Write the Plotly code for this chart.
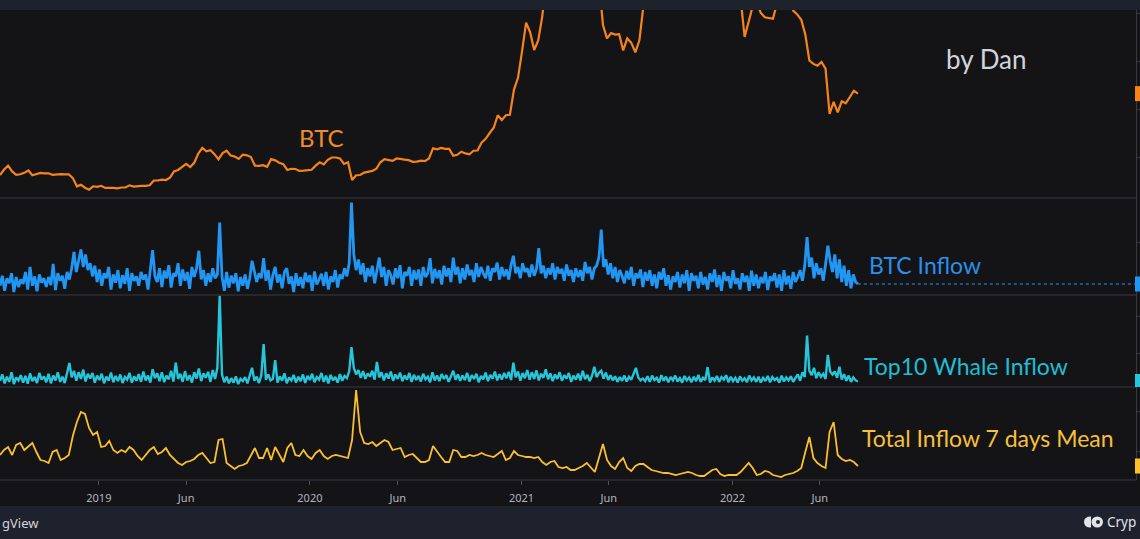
import pandas as pd
import plotly.graph_objects as go

# ---------------- data ----------------
# BTC price, weekly (Saturdays) from 2018-07-14
btc_price = [
    6250, 7400, 8200, 7000, 6300, 6400, 6700, 7200, 6200, 6500, 6700, 6600, 6600,
    6300, 6450, 6450, 6400, 6400, 5600, 3900, 4200, 3600, 3200, 3900, 3800,
    4000, 3550, 3600, 3580, 3480, 3650, 3650, 4100, 3830, 3950, 4000, 4000, 4100,
    5100, 5100, 5300, 5200, 5700, 7000, 7300, 8000, 8550, 7900, 8800, 10700, 11900,
    11200, 11400, 10600, 9500, 10800, 11300, 10300, 10100, 9600, 10500, 10350, 10000,
    8200, 8150, 8300, 7950, 9550, 9300, 8800, 8500, 7300, 7550, 7500, 7100, 7150, 7300,
    7350, 8200, 8900, 8450, 9400, 9900, 9900, 9700, 8550, 8900, 5200, 6200, 6250,
    6750, 6900, 7100, 7550, 8900, 9550, 9350, 9200, 9700, 9650, 9450, 9350, 9000,
    9050, 9250, 9150, 9700, 11800, 11600, 11900, 11700, 11700, 10250, 10450, 11100,
    10750, 10550, 11300, 11350, 13000, 13800, 15000, 16100, 18700, 17700, 18700,
    18800, 24000, 26500,
    32000, 38000, 36000, 32300, 34300, 39300, 47200, 57500, 46200, 48900, 61200,
    58100, 55800, 57100, 59900, 60000, 50100, 57800, 58800, 46700, 37500, 34700,
    35800, 35500, 35600, 32200, 34700, 33800, 31800, 34300, 41500, 44600, 47100,
    48900, 48900, 49900, 45200, 48300, 42700, 47700, 54900, 60900, 61300, 61900,
    61500, 64200, 59700, 54800, 49400, 49300, 46700, 50800,
    47700, 41800, 43100, 35000, 37900, 41400, 42200, 40000, 39100, 39000, 38800,
    42000, 44500, 46400, 42700, 40500, 39700, 38600, 35500, 30100, 29400, 29000,
    29800, 28400, 19000, 21500, 19300, 21600, 21200, 22500, 23800, 23200,
]

# BTC exchange inflow (k BTC), every 4 days from 2018-07-14
btc_inflow = [
    30, 46, 22, 42, 34, 50, 20, 44, 28, 40,
    33, 52, 24, 60, 30, 45, 21, 48, 35, 42,
    28, 44, 31, 65, 23, 50, 38, 46, 25, 52,
    40, 58, 84, 52, 70, 88, 60, 80, 55, 66,
    45, 62, 36, 56, 30, 50, 42, 60, 24, 48,
    35, 55, 26, 47, 33, 58, 22, 50, 38, 45,
    30, 52, 40, 48, 24, 60, 87, 45, 36, 58,
    28, 54, 42, 63, 27, 50, 45, 66, 30, 56,
    38, 52, 25, 60, 44, 58, 86, 40, 55, 30,
    50, 36, 58, 42, 48, 131, 45, 22, 52, 27,
    46, 34, 50, 21, 44, 30, 48, 25, 42, 70,
    55, 36, 50, 42, 74, 38, 55, 24, 47, 60,
    35, 48, 26, 52, 58, 33, 45, 20, 50, 30,
    44, 26, 51, 36, 47, 22, 53, 32, 40, 49,
    30, 52, 24, 45, 36, 55, 27, 48, 41, 58,
    45, 66, 163, 80, 55, 72, 48, 66, 36, 58,
    45, 62, 34, 57, 75, 44, 60, 30, 55, 47,
    32, 58, 42, 63, 26, 52, 46, 60, 30, 55,
    40, 56, 30, 60, 44, 50, 74, 34, 57, 42,
    55, 32, 62, 45, 58, 36, 75, 48, 60, 34,
    58, 40, 64, 47, 55, 36, 66, 44, 60, 50,
    42, 62, 38, 58, 52, 67, 40, 60, 45, 56,
    40, 63, 78, 50, 60, 42, 66, 52, 58, 44,
    64, 46, 57, 90, 50, 62, 42, 58, 48, 66,
    40, 60, 50, 57, 38, 64, 46, 55, 36, 58,
    44, 55, 38, 68, 50, 60, 40, 58, 62, 75,
    120, 60, 72, 48, 66, 42, 60, 36, 55, 46,
    34, 54, 40, 60, 30, 50, 42, 56, 28, 52,
    38, 55, 30, 48, 26, 52, 40, 58, 30, 47,
    24, 45, 36, 52, 27, 48, 34, 55, 22, 50,
    38, 46, 26, 52, 32, 44, 24, 50, 36, 56,
    28, 47, 22, 52, 38, 45, 26, 55, 33, 42,
    24, 50, 36, 46, 22, 54, 30, 48, 26, 44,
    34, 52, 23, 45, 38, 50, 27, 48, 22, 55,
    32, 46, 25, 52, 36, 44, 55, 38, 62, 108,
    60, 75, 42, 66, 48, 58, 38, 64, 94, 70,
    52, 80, 42, 72, 36, 62, 30, 55, 26, 48,
    36, 32.8,
]

# Top10 whale inflow (10k BTC), every 4 days from 2018-07-14
whale_inflow = [
    2.5, 4.2, 1.8, 3.6, 2.2, 4.8, 1.6, 3.4, 2.6, 4.0,
    2.0, 3.8, 1.7, 4.5, 2.4, 3.5, 1.9, 4.6, 2.8, 3.7,
    2.1, 4.4, 1.8, 3.9, 2.6, 4.8, 2.2, 3.6, 1.9, 4.9,
    7.3, 3.4, 5.2, 2.5, 4.8, 3.0, 5.5, 2.3, 4.4, 3.1,
    4.6, 2.0, 3.9, 2.7, 4.4, 1.8, 3.6, 2.5, 4.7, 2.1,
    3.8, 2.4, 4.2, 1.9, 3.5, 2.8, 4.6, 2.0, 3.7, 2.5,
    4.3, 2.2, 5.0, 2.6, 3.9, 2.0, 5.6, 3.2, 4.5, 2.4,
    4.8, 2.1, 3.9, 2.9, 5.2, 2.3, 7.4, 3.0, 4.4, 2.2,
    5.1, 2.6, 4.0, 2.0, 4.8, 3.1, 5.8, 2.4, 4.5, 3.3,
    4.9, 2.2, 5.4, 3.0, 6.0, 25.5, 4.2, 2.1, 3.6, 1.8,
    3.2, 2.0, 3.7, 1.6, 3.0, 2.4, 3.5, 1.8, 3.9, 6.0,
    2.5, 3.6, 1.9, 4.0, 12.4, 2.8, 4.2, 2.6, 3.0, 8.1,
    2.0, 3.7, 2.5, 4.5, 1.8, 3.4, 2.6, 4.1, 2.0, 3.6,
    2.4, 4.2, 1.9, 3.8, 2.7, 4.4, 2.1, 3.5, 2.8, 4.6,
    2.2, 3.9, 1.8, 4.1, 2.6, 3.5, 2.0, 4.3, 2.5, 3.8,
    3.2, 5.0, 11.6, 6.0, 4.2, 5.4, 3.3, 5.1, 3.0, 4.5,
    3.6, 5.2, 2.8, 7.6, 3.4, 4.8, 2.6, 4.5, 3.1, 5.0,
    2.5, 4.2, 3.0, 4.7, 2.4, 3.9, 2.8, 4.6, 2.2, 4.1,
    2.7, 3.8, 2.3, 4.4, 2.9, 3.6, 2.1, 4.8, 2.6, 3.9,
    2.4, 4.3, 3.0, 4.0, 2.2, 3.7, 5.2, 2.8, 4.2, 2.5,
    3.9, 2.7, 4.6, 2.3, 4.0, 3.0, 4.4, 2.1, 3.8, 2.9,
    4.7, 2.4, 4.1, 3.1, 5.0, 2.6, 4.3, 2.8, 4.6, 3.2,
    4.9, 2.7, 7.4, 3.4, 5.0, 2.5, 4.6, 3.2, 5.4, 2.8,
    4.8, 3.0, 5.3, 2.6, 4.4, 3.3, 5.6, 2.9, 4.5, 2.4,
    4.2, 3.0, 4.8, 2.5, 4.0, 3.1, 4.6, 2.2, 3.9, 2.8,
    4.4, 2.6, 5.2, 2.9, 4.1, 2.4, 3.8, 6.3, 3.5, 4.6,
    5.2, 3.1, 4.7, 2.7, 4.0, 2.6, 3.7, 2.2, 3.5, 2.5,
    3.9, 2.3, 3.6, 2.8, 4.2, 6.0, 3.4, 2.6, 3.1, 2.4,
    3.7, 2.2, 3.9, 2.7, 3.3, 2.0, 4.0, 2.5, 3.6, 2.1,
    3.5, 2.6, 3.9, 2.3, 3.2, 2.0, 3.8, 2.6, 3.4, 2.1,
    3.6, 2.4, 4.1, 2.2, 3.3, 2.7, 6.2, 2.0, 3.4, 2.5,
    3.8, 2.2, 3.5, 2.8, 4.0, 2.1, 3.6, 2.4, 3.3, 2.0,
    3.7, 2.5, 3.2, 2.1, 3.9, 2.6, 3.4, 2.2, 3.6, 2.0,
    3.3, 2.4, 3.8, 2.1, 3.5, 2.7, 3.2, 2.0, 3.9, 2.3,
    3.4, 2.6, 3.7, 2.2, 3.3, 4.2, 2.5, 4.8, 3.5, 14.7,
    5.2, 4.0, 6.0, 3.2, 4.8, 3.6, 4.4, 3.0, 9.5, 5.0,
    4.2, 5.0, 3.3, 6.3, 2.8, 4.3, 2.5, 3.9, 2.2, 3.4,
    2.6, 2.3,
]

# Total inflow 7-day mean (10k BTC), weekly from 2018-07-14
inflow_mean7 = [
    18, 20.5, 22, 18, 23, 24, 20.5, 22.5, 24, 19.5,
    15.5, 15, 14, 19.5, 20.5, 15.5, 16.5, 18, 27.5, 34.5,
    39.5, 38.5, 31.5, 28, 29.5, 22, 22.5, 25, 20.5, 19,
    20.5, 19.5, 22, 20.5, 17.5, 15.5, 18, 20.5, 22, 18.5,
    19.5, 21.5, 18, 16, 14, 13, 14.5, 15, 16, 18,
    19, 16.5, 14, 14.5, 25.5, 26, 14, 12.5, 11, 12.5,
    13, 14, 18, 21.5, 16.5, 16.5, 21.5, 15.5, 22, 18,
    14.5, 21.5, 24, 18, 17.5, 20.5, 17.5, 16, 19, 20.5,
    17.5, 16, 17.5, 18, 17.5, 17, 16.5, 25.5, 50.5, 29.5,
    24, 23.5, 24.5, 22.5, 24, 25.5, 24.5, 20.5, 21, 21.5,
    17, 18, 18.5, 16.5, 14.5, 14.5, 15.5, 22.5, 19.5, 17,
    14.5, 14.5, 20.5, 20, 17, 17, 18, 17.5, 18, 19,
    18, 17.5, 17, 18.5, 20, 15.5, 16.5, 20, 18, 17.5,
    17, 17, 16.5, 17, 14.5, 13, 14.5, 15, 12, 11.5,
    12, 10.5, 10.5, 11.5, 12.5, 14, 12, 9.5, 16.5, 23.5,
    15.5, 12.5, 11, 14.5, 16.5, 11.5, 10, 12.5, 13.5, 13.5,
    12, 10.5, 10, 9.5, 9, 9, 8.5, 8, 8.5, 9,
    9.5, 9, 8, 7.5, 7.5, 9, 10.5, 11, 8.5, 7.5,
    8, 8, 8, 9.5, 12, 14, 11.5, 8, 8.5, 10,
    9.5, 8, 7.5, 7, 8, 8.5, 9, 10, 11.5, 19.5,
    27, 16.5, 14, 12.5, 11.5, 29.5, 34.5, 18, 16, 15,
    15.5, 14.5, 12.5,
]

tick_dates = ["2019-01-01", "2019-06-01", "2020-01-01", "2020-06-01",
              "2021-01-01", "2021-06-01", "2022-01-01", "2022-06-01"]
tick_labels = ["2019", "Jun", "2020", "Jun", "2021", "Jun", "2022", "Jun"]

price_dates = pd.date_range("2018-07-14", periods=len(btc_price), freq="7D")
inflow_dates = pd.date_range("2018-07-14", periods=len(btc_inflow), freq="4D")
whale_dates = pd.date_range("2018-07-14", periods=len(whale_inflow), freq="4D")
mean_dates = pd.date_range("2018-07-14", periods=len(inflow_mean7), freq="7D")

# ---------------- styling ----------------
W, H = 1140, 539
ML, MR, MT, MB = 0, 4, 10, 59
PW, PH = W - ML - MR, H - MT - MB
BG = "#141417"
BAR = "#1e222d"
SEP = "#363a45"
ORANGE = "#f7841a"
BLUE = "#2196f3"
CYAN = "#26c6da"
YELLOW = "#fbc02d"
FONT = "Lato"

def fx(px):
    return (px - ML) / PW

def fy(py):
    return (MT + PH - py) / PH

pane_px = [(10, 198), (198, 295), (295, 387), (387, 480)]
domains = [[fy(b), fy(t)] for t, b in pane_px]
ranges = [[1458, 40625], [15.2, 170.4], [0.81, 25.7], [5.5, 52]]
tickvals = [[10000, 20000, 30000, 40000], [100], [10, 20], [20, 40]]

fig = go.Figure()
series = [
    (price_dates, btc_price, ORANGE, 2.2, "BTC"),
    (inflow_dates, btc_inflow, BLUE, 2.8, "BTC Inflow"),
    (whale_dates, whale_inflow, CYAN, 2.4, "Top10 Whale Inflow"),
    (mean_dates, inflow_mean7, YELLOW, 1.8, "Total Inflow 7 days Mean"),
]
for k, (xd, yd, col, lw, name) in enumerate(series):
    fig.add_trace(go.Scatter(
        x=xd, y=yd, mode="lines", name=name,
        line=dict(color=col, width=lw),
        xaxis="x", yaxis="y" if k == 0 else f"y{k+1}",
        hoverinfo="skip",
    ))

x_range = ["2018-07-14", "2023-11-30"]
layout = dict(
    width=W, height=H,
    margin=dict(l=ML, r=MR, t=MT, b=MB, pad=0),
    paper_bgcolor=BG, plot_bgcolor=BG,
    showlegend=False, hovermode=False,
    font=dict(family=FONT, color="#b2b5be"),
    xaxis=dict(
        domain=[0, 1], anchor="y4", range=x_range, type="date",
        tickvals=tick_dates, ticktext=tick_labels,
        ticks="outside", ticklen=4, tickcolor="#50535e",
        tickfont=dict(family="Noto Sans", size=11, color="#b2b5be"),
        ticklabelstandoff=4,
        showgrid=False, zeroline=False, showline=False,
    ),
)
for k in range(4):
    key = "yaxis" if k == 0 else f"yaxis{k+1}"
    layout[key] = dict(
        domain=domains[k], anchor="x", side="right", range=ranges[k],
        tickvals=tickvals[k], ticks="outside", ticklen=5, tickcolor=SEP,
        showticklabels=False, showgrid=False, zeroline=False,
        showline=True, linecolor=SEP, linewidth=1,
    )
fig.update_layout(**layout)

shapes = []
# header and footer bars
shapes.append(dict(type="rect", xref="paper", yref="paper",
                   x0=fx(-5), x1=fx(W + 5), y0=fy(10), y1=fy(-5),
                   fillcolor=BAR, line_width=0, layer="below"))
shapes.append(dict(type="rect", xref="paper", yref="paper",
                   x0=fx(-5), x1=fx(W + 5), y0=fy(545), y1=fy(506),
                   fillcolor=BAR, line_width=0, layer="below"))
# pane separators
for py in [198, 295, 387, 480]:
    shapes.append(dict(type="line", xref="paper", yref="paper",
                       x0=0, x1=1, y0=fy(py), y1=fy(py),
                       line=dict(color=SEP, width=1)))

# last value labels on the price scale
for k, (xd, yd, col, lw, name) in enumerate(series):
    t, b = pane_px[k]
    per_px = (ranges[k][1] - ranges[k][0]) / (b - t)
    last = yd[-1]
    yref = "y" if k == 0 else f"y{k+1}"
    shapes.append(dict(type="rect", xref="paper", yref=yref,
                       x0=fx(1135), x1=fx(1150),
                       y0=last - 7.5 * per_px, y1=last + 7.5 * per_px,
                       fillcolor=col, line_width=0))
# dotted last-value line for BTC Inflow
shapes.append(dict(type="line", xref="x", yref="y2",
                   x0=inflow_dates[-1], x1=x_range[1],
                   y0=btc_inflow[-1], y1=btc_inflow[-1],
                   line=dict(color=BLUE, width=1, dash="dot")))

# footer logo
shapes.append(dict(type="path", xref="paper", yref="paper",
                   path=(f"M {fx(1091)},{fy(516.5)} "
                         f"Q {fx(1084)},{fy(516.5)} {fx(1084)},{fy(522)} "
                         f"Q {fx(1084)},{fy(527.5)} {fx(1091)},{fy(527.5)} Z"),
                   fillcolor="#e1e3e8", line_width=0))
shapes.append(dict(type="circle", xref="paper", yref="paper",
                   x0=fx(1091.5), x1=fx(1103), y0=fy(527.5), y1=fy(516.5),
                   fillcolor="#e1e3e8", line_width=0))
shapes.append(dict(type="circle", xref="paper", yref="paper",
                   x0=fx(1096), x1=fx(1100), y0=fy(524), y1=fy(520),
                   fillcolor=BAR, line_width=0))
fig.update_layout(shapes=shapes)

ann = []
def label(text, x, y, color, size, xanchor="left", family=FONT):
    ann.append(dict(text=text, xref="paper", yref="paper", x=fx(x), y=fy(y),
                    xanchor=xanchor, yanchor="middle", showarrow=False,
                    font=dict(family=family, size=size, color=color)))

label("BTC", 321, 137.5, "#f28a2a", 24, xanchor="center")
label("by Dan", 986, 59, "#d1d4dc", 26, xanchor="center")
label("BTC Inflow", 867, 265, "#2a90ea", 23)
label("Top10 Whale Inflow", 862, 366, "#21bdd3", 23)
label("Total Inflow 7 days Mean", 860, 438, "#f6c03a", 23)
label("gView", 0, 523, "#d1d4dc", 13, family="Noto Sans")
label("Cryp", 1105, 522, "#e1e3e8", 13.5, family="Noto Sans")
fig.update_layout(annotations=ann)

fig.write_html(
    "out.html",
    config={"displayModeBar": False, "staticPlot": True},
    post_script="document.body.style.margin='0';document.body.style.overflow='hidden';",
)
